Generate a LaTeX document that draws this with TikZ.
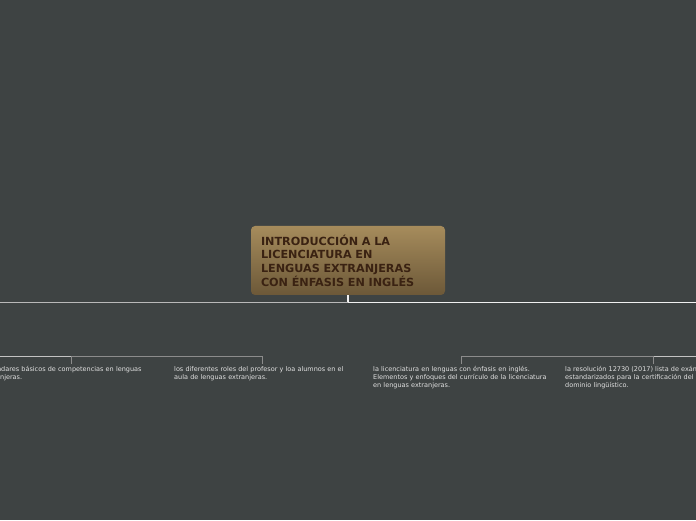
\documentclass[tikz,border=0pt]{standalone}
\usepackage{fontspec}
\setmainfont{DejaVu Sans}
\usetikzlibrary{positioning}
\definecolor{bgc}{RGB}{62,67,67}
\definecolor{boxtop}{RGB}{166,140,92}
\definecolor{boxbot}{RGB}{108,88,56}
\definecolor{titlec}{RGB}{58,34,18}
\definecolor{smalltxt}{RGB}{225,225,225}
\definecolor{mainline}{RGB}{240,240,240}
\definecolor{mainlineL}{RGB}{185,185,185}
\definecolor{subline}{RGB}{140,140,140}
\definecolor{sublineL}{RGB}{195,195,195}
\tikzset{
  rootbox/.style={rounded corners=4pt, top color=boxtop, bottom color=boxbot,
    minimum width=194pt, minimum height=69pt, text width=174pt, align=left,
    inner xsep=10pt, inner ysep=0pt, text=titlec,
    font=\fontsize{11.2}{13.7}\selectfont\bfseries},
  leaf/.style={text width=176pt, align=left, inner sep=0pt, text=smalltxt,
    anchor=north west, font=\fontsize{6.5}{8}\selectfont},
  mline/.style={line width=1.3pt, draw=mainline},
  mlineL/.style={line width=1.3pt, draw=mainlineL},
  sline/.style={line width=1pt, draw=subline},
  slineL/.style={line width=1pt, draw=sublineL},
}
\begin{document}
\begin{tikzpicture}[x=1pt,y=1pt]
\useasboundingbox (0,0) rectangle (696,520);
\fill[bgc] (0,0) rectangle (696,520);
\clip (0,0) rectangle (696,520);
% root
\node[rootbox] (root) at (348,259.5) {INTRODUCCIÓN A LA\\LICENCIATURA EN\\LENGUAS EXTRANJERAS\\CON ÉNFASIS EN INGLÉS};
% leaves
\node[leaf] (c1) at (-17,153.5) {estándares básicos de competencias en lenguas\\extranjeras.};
\node[leaf] (c2) at (174,153.5) {los diferentes roles del profesor y loa alumnos en el\\aula de lenguas extranjeras.};
\node[leaf] (c3) at (373,153.5) {la licenciatura en lenguas con énfasis en inglés.\\Elementos y enfoques del currículo de la licenciatura\\en lenguas extranjeras.};
\node[leaf] (c4) at (565,153.5) {la resolución 12730 (2017) lista de exámenes\\estandarizados para la certificación del nivel de\\dominio lingüístico.};
% main branch line
\coordinate (m) at (348,217.5);
\coordinate (mL) at (-20,217.5);
\coordinate (mR) at (716,217.5);
\draw[mline] (root.south) -- (m);
\draw[mlineL] (m) -- (mL);
\draw[mline] (m) -- (mR);
% sub branch lines
\coordinate (bL) at (-20,164);
\coordinate (bR) at (716,164);
\coordinate (b1) at (c1.north |- bL);
\coordinate (b2) at (c2.north |- bL);
\coordinate (b3) at (c3.north |- bL);
\coordinate (b4) at (c4.north |- bL);
\draw[slineL] (bL) -- (b1);
\draw[sline] (b1) -- (b2);
\draw[sline] (b3) -- (b4);
\draw[slineL] (b4) -- (bR);
\draw[sline] (b1) -- ([yshift=2.5pt]c1.north);
\draw[sline] (b2) -- ([yshift=2.5pt]c2.north);
\draw[sline] (b3) -- ([yshift=2.5pt]c3.north);
\draw[sline] (b4) -- ([yshift=2.5pt]c4.north);
\end{tikzpicture}
\end{document}
